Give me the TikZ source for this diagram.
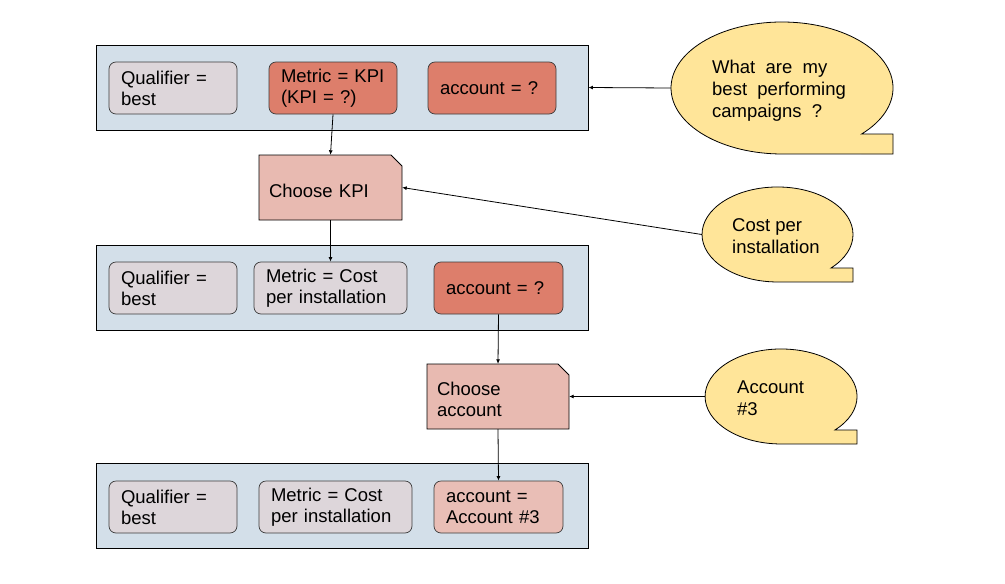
\documentclass[tikz,border=0pt]{standalone}
\usepackage{fontspec}
\setmainfont{Liberation Sans}
\usetikzlibrary{arrows.meta,shapes.geometric}
\definecolor{panelblue}{RGB}{211,223,233}
\definecolor{redfill}{RGB}{221,126,107}
\definecolor{greyfill}{RGB}{221,214,218}
\definecolor{pinkfill}{RGB}{233,190,182}
\definecolor{choosefill}{RGB}{232,186,177}
\definecolor{bubblefill}{RGB}{255,229,153}
\definecolor{boxline}{RGB}{60,60,60}
\newcommand{\lowered}[1]{\raisebox{-3pt}[\height][\depth]{#1}}
\tikzset{
  panel/.style={draw=black, fill=panelblue, line width=0.9pt, minimum width=492pt, minimum height=85pt, inner sep=0pt},
  field/.style={draw=boxline, rounded corners=7pt, line width=0.7pt, minimum height=52pt,
    inner xsep=12pt, inner ysep=0pt, align=left, font=\fontsize{18.5}{21}\selectfont},
  greyfield/.style={field, fill=greyfill},
  redfield/.style={field, fill=redfill},
  pinkfield/.style={field, fill=pinkfill},
  chooser/.style={minimum height=65pt, inner xsep=10pt, inner ysep=0pt, align=left, font=\fontsize{18.5}{21}\selectfont},
  chooseshape/.style={draw=black, fill=choosefill, line width=0.8pt},
  bubble/.style={draw=black, fill=bubblefill, line width=0.8pt},
  bubblearea/.style={ellipse, inner sep=0pt},
  bubbletext/.style={anchor=west, align=left, inner sep=0pt, font=\fontsize{18.5}{22}\selectfont},
  conn/.style={draw=black, line width=0.8pt, -{Latex[length=4.5pt,width=4pt]}}
}
\begin{document}
\begin{tikzpicture}[x=1pt,y=-1pt]
\useasboundingbox (0,0) rectangle (1005,584);
\fill[white] (0,0) rectangle (1005,584);

% panels
\node[panel] (p1) at (342,87.5) {};
\node[panel] (p2) at (342,287.5) {};
\node[panel] (p3) at (342,505.5) {};

% row 1
\node[greyfield, text width=104pt] (q1) at (173,88) {Qualifier =\\best};
\node[redfield, text width=104pt] (m1) at (333,88) {Metric = KPI\\(KPI = ?)};
\node[redfield, text width=104pt] (a1) at (492,88) {account = ?};

% row 2
\node[greyfield, text width=104pt] (q2) at (173,288) {Qualifier =\\best};
\node[greyfield, text width=129pt] (m2) at (330.5,288) {Metric = Cost\\per installation};
\node[redfield, text width=105pt] (a2) at (498.5,288) {account = ?};

% row 3
\node[greyfield, text width=104pt] (q3) at (173,507) {Qualifier =\\best};
\node[greyfield, text width=129pt] (m3) at (335.5,507) {Metric = Cost\\per installation};
\node[pinkfield, text width=105pt] (a3) at (498.5,507) {account =\\Account \#3};

% choosers
\filldraw[chooseshape] (259,220) -- (259,155) -- (391,155) -- (402,166) -- (402,220) -- cycle;
\node[chooser, minimum width=143pt, text width=123pt] (ck) at (330.5,187.5) {\lowered{Choose KPI}};
\filldraw[chooseshape] (427,429) -- (427,364) -- (558,364) -- (569,375) -- (569,429) -- cycle;
\node[chooser, minimum width=142pt, text width=122pt] (ca) at (498,396.5) {\lowered{Choose}\\\lowered{account}};

% bubbles
\node[bubblearea, minimum width=222pt, minimum height=132pt] (b1) at (782,88) {};
\filldraw[bubble] (861.6,134) arc[start angle=-44.2, end angle=270, x radius=111pt, y radius=66pt] -- (893,154) -- (893,134) -- cycle;
\node[bubbletext] (t1) at (712,90.5) {What\ \ are\ \ my\\best\ \ performing\\campaigns\ \ ?};

\node[bubblearea, minimum width=151pt, minimum height=95pt] (b2) at (777.5,234.5) {};
\filldraw[bubble] (831,268) arc[start angle=-44.9, end angle=270, x radius=75.5pt, y radius=47.5pt] -- (853,282) -- (853,268) -- cycle;
\node[bubbletext] (t2) at (732,236) {Cost per\\installation};

\node[bubblearea, minimum width=152pt, minimum height=95pt] (b3) at (781,396.5) {};
\filldraw[bubble] (834.9,430) arc[start angle=-44.9, end angle=270, x radius=76pt, y radius=47.5pt] -- (857,444) -- (857,430) -- cycle;
\node[bubbletext] (t3) at (737,398) {Account\\\#3};

% connectors
\draw[conn] (m1.south) -- (ck.north);
\draw[conn] (ck.south) -- (m2.north);
\draw[conn] (a2.south) -- (ca.north);
\draw[conn] (ca.south) -- (a3.north);
\draw[conn] (b1.west) -- (p1.east);
\draw[conn] (b2.west) -- (ck.east);
\draw[conn] (b3.west) -- (ca.east);
\end{tikzpicture}
\end{document}
